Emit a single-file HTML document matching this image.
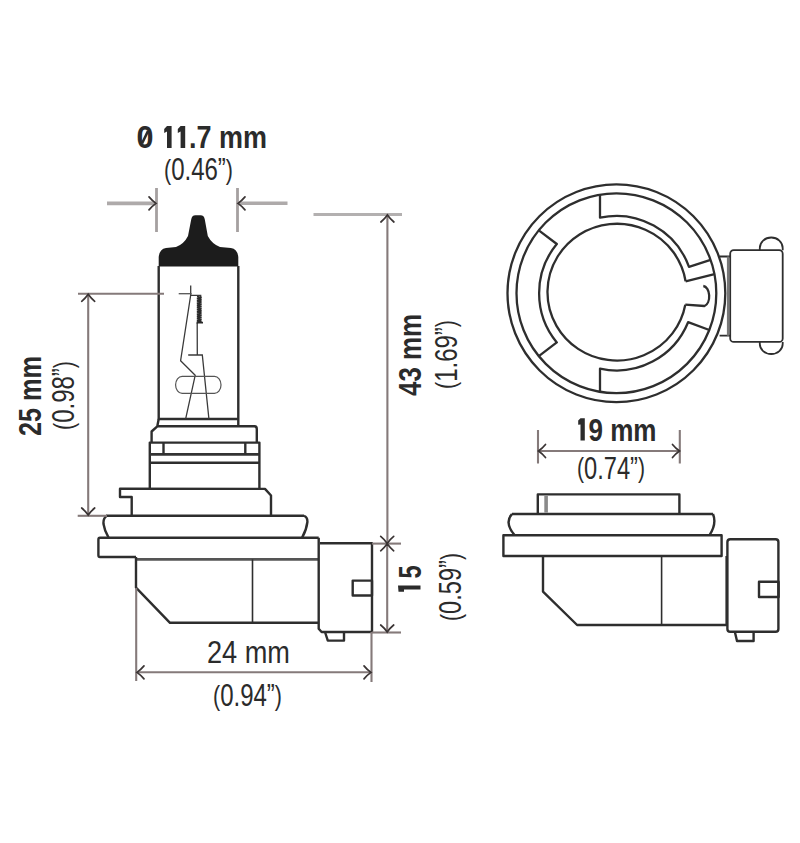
<!DOCTYPE html>
<html><head><meta charset="utf-8">
<style>
html,body{margin:0;padding:0;background:#fff;width:800px;height:843px;overflow:hidden}
svg{display:block}
text{font-family:"Liberation Sans",sans-serif;fill:#2b2b2b}
.b{font-weight:bold}
.o{fill:none;stroke:#2e2e2e;stroke-width:2.4;stroke-linejoin:round}
.t{fill:none;stroke:#3a3a3a;stroke-width:1.3}
.d{fill:none;stroke:#857a7a;stroke-width:2.1}
.e{fill:none;stroke:#aeaaaa;stroke-width:3.6}
.ah{fill:none;stroke:#3a3434;stroke-width:1.7;stroke-linecap:round}
</style></head>
<body>
<svg width="800" height="843" viewBox="0 0 800 843">

<!-- ===== Dimension: 11.7 mm ===== -->
<text class="b" x="136.5" y="148" font-size="31.5" textLength="17" lengthAdjust="spacingAndGlyphs">0</text>
<line x1="142" y1="143.5" x2="148" y2="131" style="stroke:#2b2b2b;stroke-width:2.6"/>
<path fill="#2b2b2b" d="M167 126 L171.6 126 L171.6 148 L167 148 L167 131.5 L164.2 133 L164.2 129 Z M180.6 126 L185.2 126 L185.2 148 L180.6 148 L180.6 131.5 L177.8 133 L177.8 129 Z"/>
<text class="b" x="189" y="148" font-size="31.5" textLength="78" lengthAdjust="spacingAndGlyphs">.7 mm</text>
<text x="164" y="180.4" font-size="32" textLength="69" lengthAdjust="spacingAndGlyphs"><tspan font-size="28.5" dy="-1.5">(</tspan><tspan dy="1.5">0.46”</tspan><tspan font-size="28.5" dy="-1.5">)</tspan></text>
<line class="e" x1="107" y1="203.4" x2="156" y2="203.4"/>
<line class="e" x1="239" y1="203.3" x2="287.5" y2="203.3"/>
<line class="d" x1="156.5" y1="188" x2="156.5" y2="232" style="stroke:#a5a0a0;stroke-width:2.8"/>
<line class="d" x1="237.5" y1="188" x2="237.5" y2="232" style="stroke:#a5a0a0;stroke-width:2.8"/>
<path class="ah" d="M149.0 209.9 Q152.2 206.1 156 203.4 Q152.2 200.7 149.0 196.9"/>
<path class="ah" d="M245.0 196.9 Q241.8 200.7 238 203.4 Q241.8 206.1 245.0 209.9"/>

<!-- ===== Bulb (left view) ===== -->
<!-- black cap -->
<path fill="#1c1c1c" d="M158.7 266.5 L158.7 257 Q159.5 249 166 248 L176 247 Q184 244 188 236 L191.2 219.5 Q191.8 215.2 195.5 215.2 L200.5 215.2 Q204.2 215.2 204.8 219.5 L207.8 236 Q212 244 220 247 L230.9 248 Q237.5 249 238.3 257 L238.3 266.5 Z"/>
<!-- glass -->
<path class="o" d="M158.7 266 L158.7 419 L238.3 419 L238.3 266 M238.3 419 L238.3 426.5"/>
<!-- filament -->
<g class="t">
<line x1="190.7" y1="285.5" x2="190.7" y2="296"/>
<path d="M178.7 293.7 L191.6 293.7" style="stroke:#555"/>
<path d="M191 295.3 L200.7 295.3 L200.7 298"/>
<path d="M190.7 295 L180.6 360.7 L195.2 375.3 L185.7 418.7"/>
<path d="M197.2 323 L197.3 355 M188.2 355 L202.3 355 L208.9 418.7"/>
<path d="M197 296.5 L201.5 297.6 L197 298.7 L201.5 299.8 L197 300.9 L201.5 302.0 L197 303.1 L201.5 304.2 L197 305.3 L201.5 306.4 L197 307.5 L201.5 308.6 L197 309.7 L201.5 310.8 L197 311.9 L201.5 313.0 L197 314.1 L201.5 315.2 L197 316.3 L201.5 317.4 L197 318.5 L201.5 319.6 L197 320.7 L201.5 321.8 L197 322.9 M196.5 322.7 L203 322.7" style="stroke:#2a2a2a;stroke-width:1.7"/>
<rect x="175.6" y="376.3" width="45.4" height="17.1" rx="6.5" ry="8.5" style="stroke:#555;stroke-width:1.2"/>
</g>
<!-- base collars -->
<path class="o" d="M158.7 419 L157.3 426.3 L254.5 426.3 Q256.8 426.5 256.8 429 L256.8 442.6 M151.6 442.6 L151.6 431.5 L157.3 426.3"/>
<path class="o" d="M149.8 488.7 L149.8 442.6 L259.4 442.6 L259.4 488.7" style="stroke-width:2.4"/>
<line class="o" x1="150" y1="454.3" x2="259.4" y2="454.3" style="stroke-width:2.8;stroke:#333"/>
<line class="o" x1="150" y1="462.7" x2="259.4" y2="462.7"/>
<line class="o" x1="163.5" y1="442.6" x2="163.5" y2="454.3"/>
<line class="o" x1="245.3" y1="442.6" x2="245.3" y2="454.3"/>
<!-- base with notch -->
<path class="o" d="M131.7 515.8 L131.7 497 L120 497 L120 488.7 L265 488.9 L271 495.5 L271 515.8"/>
<line class="o" x1="106" y1="515.8" x2="304" y2="515.8"/>
<!-- flange -->
<path class="o" d="M107 515.8 Q103 518 103.5 524 Q104.5 531 108.7 537.8 M304 515.8 Q307.6 517 307.4 522 Q306.5 530 302 537.8"/>
<!-- plate -->
<path class="o" d="M318.7 537.8 L100 537.8 Q98.4 537.8 98.4 539.5 L98.4 555.3 Q98.4 557 100 557 L136 557"/>
<line class="o" x1="136" y1="559.4" x2="318.7" y2="559.4" style="stroke:#555;stroke-width:2.6"/>
<!-- housing -->
<path class="o" d="M136 557 L136 587.6 L170 622.8 L318.7 622.8"/>
<line class="o" x1="252.5" y1="559.4" x2="252.5" y2="622.8" style="stroke-width:1.6"/>
<!-- connector -->
<path class="o" d="M318.7 537.8 L318.7 628.8 L321.6 632 L372 632 L372 543.2 L320 543.2"/>
<rect class="o" x="352.7" y="580.6" width="19.3" height="14.9"/>
<path class="o" d="M325 632 L327.8 640.6 L344 640.6 L344 632"/>

<!-- ===== Dimension: 25 mm ===== -->
<line class="d" x1="78" y1="293.8" x2="164" y2="293.8"/>
<line class="d" x1="88.2" y1="293.8" x2="88.2" y2="515.5"/>
<line class="d" x1="77.7" y1="515.8" x2="107" y2="515.8"/>
<path class="ah" d="M94.7 301.3 Q90.9 298.2 88.2 294.3 Q85.5 298.2 81.7 301.3"/>
<path class="ah" d="M81.7 508.0 Q85.5 511.1 88.2 515 Q90.9 511.1 94.7 508.0"/>
<text class="b" transform="translate(40.7 436) rotate(-90)" font-size="31.5" textLength="80" lengthAdjust="spacingAndGlyphs">25 mm</text>
<text transform="translate(74 430) rotate(-90)" font-size="32" textLength="69" lengthAdjust="spacingAndGlyphs"><tspan font-size="28.5" dy="-1.5">(</tspan><tspan dy="1.5">0.98”</tspan><tspan font-size="28.5" dy="-1.5">)</tspan></text>

<!-- ===== Dimension: 43 mm ===== -->
<line class="e" x1="313.5" y1="214.5" x2="402" y2="214.5" style="stroke:#b3b0b0;stroke-width:3"/>
<line class="d" x1="387.4" y1="214.5" x2="387.4" y2="543.6"/>
<path class="ah" d="M393.9 222.0 Q390.1 218.8 387.4 215 Q384.7 218.8 380.9 222.0"/>
<text class="b" transform="translate(420.8 396) rotate(-90)" font-size="31.5" textLength="82" lengthAdjust="spacingAndGlyphs">43 mm</text>
<text transform="translate(456.5 389) rotate(-90)" font-size="32" textLength="69" lengthAdjust="spacingAndGlyphs"><tspan font-size="28.5" dy="-1.5">(</tspan><tspan dy="1.5">1.69”</tspan><tspan font-size="28.5" dy="-1.5">)</tspan></text>

<!-- ===== Dimension: 15 ===== -->
<line class="d" x1="372" y1="543.6" x2="401" y2="543.6"/>
<line class="d" x1="372" y1="632.5" x2="401" y2="632.5"/>
<line class="d" x1="387.2" y1="543.6" x2="387.2" y2="632.5"/>
<path class="ah" d="M380.7 536.4 Q384.5 539.5 387.2 543.4 Q389.9 539.5 393.7 536.4 M393.7 550.8 Q389.9 547.6 387.2 543.8 Q384.5 547.6 380.7 550.8"/>
<path class="ah" d="M380.7 625.0 Q384.5 628.1 387.2 632 Q389.9 628.1 393.7 625.0"/>
<path fill="#2b2b2b" d="M398 585.5 L420.5 585.5 L420.5 589.5 L404 589.5 L404 591.7 L398.5 591.7 Z"/>
<text class="b" transform="translate(420.5 578.5) rotate(-90)" font-size="31.5" textLength="13.2" lengthAdjust="spacingAndGlyphs">5</text>
<text transform="translate(461 621) rotate(-90)" font-size="32" textLength="68" lengthAdjust="spacingAndGlyphs"><tspan font-size="28.5" dy="-1.5">(</tspan><tspan dy="1.5">0.59”</tspan><tspan font-size="28.5" dy="-1.5">)</tspan></text>

<!-- ===== Dimension: 24 mm ===== -->
<line class="d" x1="136.2" y1="588" x2="136.2" y2="681"/>
<line class="d" x1="371.5" y1="632" x2="371.5" y2="682"/>
<line class="d" x1="136.2" y1="672.2" x2="371.5" y2="672.2"/>
<path class="ah" d="M144.0 665.9 Q140.8 669.7 137 672.4 Q140.8 675.1 144.0 678.9"/>
<path class="ah" d="M364.0 678.9 Q367.1 675.1 371 672.4 Q367.1 669.7 364.0 665.9"/>
<text x="207" y="662.5" font-size="31.5" textLength="83" lengthAdjust="spacingAndGlyphs">24 mm</text>
<text x="213" y="706.3" font-size="32" textLength="69" lengthAdjust="spacingAndGlyphs"><tspan font-size="28.5" dy="-1.5">(</tspan><tspan dy="1.5">0.94”</tspan><tspan font-size="28.5" dy="-1.5">)</tspan></text>

<!-- ===== Top view (circle) ===== -->
<g class="o" style="stroke-width:2.3">
<circle cx="616.4" cy="293.2" r="108.9"/>
<circle cx="616.4" cy="293.2" r="99.9"/>
<path d="M600.0 194.7 L600.0 217.7 A77.3 77.3 0 0 1 689.0 266.8 L710.6 259.9"/>
<path d="M709.3 330.0 L688.1 322.2 A77.3 77.3 0 0 1 600.0 368.7 L600.0 391.7"/>
<path d="M538.8 356.1 L556.8 342.4 A77.3 77.3 0 0 1 556.8 244.0 L538.8 230.3"/>
<path d="M685.3 304.7 A69.5 68.4 0 1 1 685.6 281.3"/>
<path d="M685.6 281.3 L714.5 274.1 M685.3 304.7 L704.5 306 A6.4 10.2 0 0 0 703.3 286"/>
</g>
<!-- connector (top view) -->
<rect class="o" x="730.2" y="250.2" width="52.5" height="91.7" rx="3.5" style="stroke-width:1.8"/>
<path class="o" d="M719.6 256.5 L730.2 256.5 M719.6 335.7 L730.2 335.7" style="stroke-width:1.8"/>
<line x1="728" y1="256.5" x2="728" y2="335.7" style="stroke:#777;stroke-width:2.2"/>
<path class="o" d="M759.8 250.2 L759.8 248 A11.45 10.5 0 0 1 782.7 248 L782.7 250.2" style="stroke-width:1.8"/>
<path class="o" d="M759.8 341.9 L759.8 344 A11.45 10 0 0 0 782.7 344 L782.7 341.9" style="stroke-width:1.8"/>

<!-- ===== Side view ===== -->
<path class="o" d="M537.8 513.5 L537.8 494.4 L679.4 494.4 L679.4 513.5"/>
<line x1="546.1" y1="495.5" x2="546.1" y2="512.5" style="stroke:#8a8a8a;stroke-width:3.6"/>
<line class="o" x1="511.9" y1="514" x2="713" y2="514" style="stroke-width:2.4"/>
<path class="o" d="M511.9 514 Q504 523 514.7 535.3 M713 514 Q717 524 709.4 535.3"/>
<rect class="o" x="503.4" y="535.3" width="218.2" height="20.7"/>
<path class="o" d="M543 556 L543 591.6 L577.1 625 L726.6 625 L726.6 556"/>
<line class="o" x1="661.6" y1="556" x2="661.6" y2="625" style="stroke-width:1.6"/>
<rect class="o" x="727.4" y="539.3" width="51" height="92.4" rx="2.8"/>
<rect class="o" x="759" y="581.8" width="19.6" height="15.2"/>
<path class="o" d="M734.7 631.2 L737 641 L753.6 641 L753.6 631.2"/>

<!-- ===== Dimension: 19 mm ===== -->
<line class="d" x1="538" y1="430" x2="538" y2="463.5"/>
<line class="d" x1="679.8" y1="430" x2="679.8" y2="463.5"/>
<line class="d" x1="538" y1="451" x2="679.8" y2="451"/>
<path class="ah" d="M545.5 444.5 Q542.4 448.3 538.5 451 Q542.4 453.7 545.5 457.5"/>
<path class="ah" d="M672.5 457.5 Q675.6 453.7 679.5 451 Q675.6 448.3 672.5 444.5"/>
<path fill="#2b2b2b" d="M580.5 418.3 L584.8 418.3 L584.8 440.6 L580.5 440.6 L580.5 424.5 L578.2 424.8 L578.2 420.5 Z"/>
<text class="b" x="588.5" y="440.7" font-size="31.5" textLength="68" lengthAdjust="spacingAndGlyphs">9 mm</text>
<text x="577" y="478.5" font-size="32" textLength="68" lengthAdjust="spacingAndGlyphs"><tspan font-size="28.5" dy="-1.5">(</tspan><tspan dy="1.5">0.74”</tspan><tspan font-size="28.5" dy="-1.5">)</tspan></text>

</svg>
</body></html>
